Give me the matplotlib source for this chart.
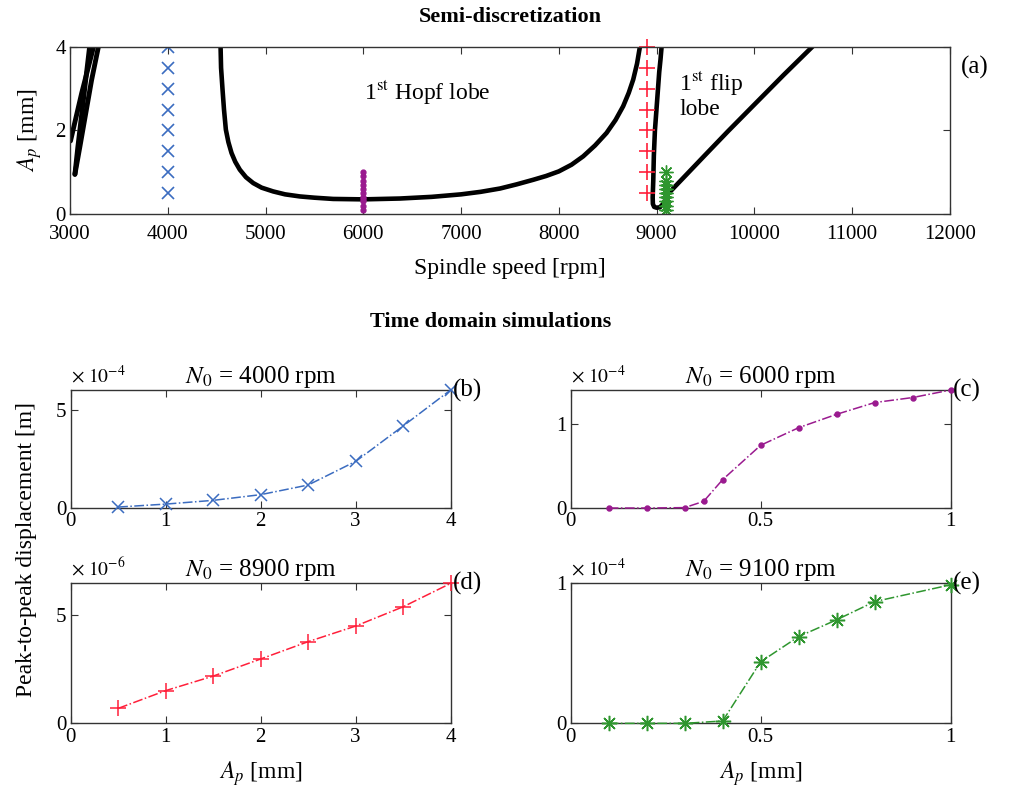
import numpy as np
import matplotlib
matplotlib.use("Agg")
import matplotlib.pyplot as plt

plt.rcParams['font.family'] = ['Liberation Serif', 'DejaVu Serif']
plt.rcParams['mathtext.fontset'] = 'stix'
plt.rcParams['xtick.direction'] = 'in'
plt.rcParams['ytick.direction'] = 'in'
plt.rcParams['xtick.top'] = True
plt.rcParams['ytick.right'] = True

# ---- stability chart (a): curves (rpm, mm)
left_lobe_1_rpm = [3050, 3080, 3120, 3160, 3200]
left_lobe_1_ap = [0.95, 1.6, 2.4, 3.2, 4.0]
left_lobe_2_rpm = [3050, 3100, 3160, 3220, 3290]
left_lobe_2_ap = [0.95, 1.6, 2.4, 3.2, 4.0]
left_lobe_3_rpm = [3005, 3060, 3120, 3180, 3240]
left_lobe_3_ap = [1.75, 2.3, 2.9, 3.45, 4.0]

hopf_rpm = [4540, 4545, 4560, 4575, 4594, 4620, 4652, 4690, 4737, 4800, 4874,
            4960, 5078, 5200, 5351, 5500, 5692, 6000, 6374, 6700, 7000, 7200,
            7399, 7570, 7740, 7870, 8000, 8130, 8249, 8370, 8488, 8580, 8658,
            8715, 8761, 8800, 8829]
hopf_ap = [4.0, 3.5, 2.98, 2.5, 2.02, 1.72, 1.46, 1.25, 1.06, 0.88, 0.74,
           0.63, 0.54, 0.47, 0.42, 0.39, 0.36, 0.35, 0.37, 0.41, 0.47, 0.53,
           0.61, 0.71, 0.82, 0.91, 1.02, 1.18, 1.38, 1.64, 1.94, 2.25, 2.58,
           2.9, 3.22, 3.6, 4.0]

flip_rpm = [9051, 9040, 9027, 9005, 8983, 8972, 8966, 8960, 8962, 8975, 9000,
            9034, 9070, 9116, 9300, 9500, 9730, 10000, 10300, 10600]
flip_ap = [4.0, 3.7, 3.4, 2.7, 2.0, 1.4, 0.8, 0.4, 0.24, 0.17, 0.15,
           0.16, 0.25, 0.48, 0.93, 1.42, 1.98, 2.62, 3.33, 4.02]

# ---- time domain simulations
ap_b = [0.5, 1.0, 1.5, 2.0, 2.5, 3.0, 3.5, 4.0]
pp_b = [0.05, 0.2, 0.39, 0.68, 1.17, 2.37, 4.17, 6.0]          # x 1e-4 m
ap_c = [0.1, 0.2, 0.3, 0.35, 0.4, 0.5, 0.6, 0.7, 0.8, 0.9, 1.0]
pp_c = [0.0, 0.0, 0.005, 0.08, 0.34, 0.75, 0.96, 1.12, 1.26, 1.32, 1.41]  # x 1e-4 m
ap_d = [0.5, 1.0, 1.5, 2.0, 2.5, 3.0, 3.5, 4.0]
pp_d = [0.69, 1.51, 2.18, 2.97, 3.77, 4.49, 5.38, 6.46]        # x 1e-6 m
ap_e = [0.1, 0.2, 0.3, 0.4, 0.5, 0.6, 0.7, 0.8, 1.0]
pp_e = [0.0, 0.0, 0.0, 0.017, 0.44, 0.62, 0.74, 0.87, 0.99]    # x 1e-4 m

speeds = [4000, 6000, 8900, 9100]
blue = '#3b6cc0'
purple = '#9a1a8f'
red = '#ff1f3a'
green = '#2f962f'
asterisk = (8, 2, 0)   # matlab style '*'

fig = plt.figure(figsize=(10.09, 7.89), dpi=100)

def style(ax, pad=3):
    for s in ax.spines.values():
        s.set_linewidth(1.0)
        s.set_color('#333333')
    ax.tick_params(labelsize=15, length=5, width=0.8, color='#333333', pad=pad)

# ================= (a)
ax = fig.add_axes([0.0694, 0.7288, 0.872, 0.2117])
for r, a in [(left_lobe_1_rpm, left_lobe_1_ap), (left_lobe_2_rpm, left_lobe_2_ap),
             (left_lobe_3_rpm, left_lobe_3_ap)]:
    ax.plot(r, a, color='black', lw=3.5, solid_capstyle='round')
ax.plot(hopf_rpm, hopf_ap, color='black', lw=3.3)
ax.plot(flip_rpm, flip_ap, color='black', lw=3.3, solid_capstyle='round')
ax.plot([speeds[0]] * len(ap_b), ap_b, 'x', color=blue, ms=9, mew=1.2, ls='none')
ax.plot([speeds[1]] * len(ap_c), ap_c, '.', color=purple, ms=7, ls='none')
ax.plot([speeds[2]] * len(ap_d), ap_d, '+', color=red, ms=12, mew=1.2, ls='none',
        clip_on=False)
ax.plot([speeds[3]] * len(ap_e), ap_e, marker=asterisk, color=green, ms=10, mew=1.0,
        ls='none')
ax.set_xlim(3000, 12000)
ax.set_ylim(0, 4)
ax.set_xticks(np.arange(3000, 12001, 1000))
ax.set_yticks([0, 2, 4])
style(ax)
ax.tick_params(axis='x', pad=8)
ax.set_xlabel('Spindle speed [rpm]', fontsize=17, labelpad=10)
ax.set_ylabel(r'$A_p$ [mm]', fontsize=17, labelpad=8)
ax.text(6650, 2.9, r'1$^{\rm st}$ Hopf lobe', fontsize=17, ha='center', va='center')
ax.text(9230, 2.85, r'1$^{\rm st}$ flip' + '\nlobe', fontsize=17, ha='left', va='center',
        linespacing=1.1)
fig.text(0.506, 0.978, 'Semi-discretization', fontsize=16, fontweight='bold',
         ha='center', va='center')
fig.text(0.966, 0.914, '(a)', fontsize=18, ha='center', va='center')

fig.text(0.486, 0.592, 'Time domain simulations', fontsize=16, fontweight='bold',
         ha='center', va='center')

# ================= (b)-(e)
panels = [
    ([0.0700, 0.3561, 0.3766, 0.1496], ap_b, pp_b, 'x', blue, 9, 6.0, [0, 5],
     [0, 1, 2, 3, 4], 4, 4.0, '(b)'),
    ([0.5656, 0.3561, 0.3766, 0.1496], ap_c, pp_c, '.', purple, 7, 1.41, [0, 1],
     [0, 0.5, 1], 4, 1.0, '(c)'),
    ([0.0700, 0.0832, 0.3766, 0.1774], ap_d, pp_d, '+', red, 12, 6.46, [0, 5],
     [0, 1, 2, 3, 4], 6, 4.0, '(d)'),
    ([0.5656, 0.0832, 0.3766, 0.1774], ap_e, pp_e, asterisk, green, 11, 1.0, [0, 1],
     [0, 0.5, 1], 4, 1.0, '(e)'),
]
rpm_titles = [4000, 6000, 8900, 9100]
axes = []
for i, (rect, x, y, mk, col, ms, ymax, yt, xt, ex, xmax, tag) in enumerate(panels):
    a = fig.add_axes(rect)
    a.plot(x, y, ls='-.', color=col, lw=1.1, marker=mk, ms=ms, mew=1.1,
           clip_on=False, zorder=3)
    a.set_xlim(0, xmax)
    a.set_ylim(0, ymax)
    a.set_xticks(xt)
    a.set_xticklabels([('%g' % v) for v in xt])
    a.set_yticks(yt)
    style(a)
    a.set_title(r'$N_0$ = %d rpm' % rpm_titles[i], fontsize=18, pad=5)
    a.text(0.0, 1.03, r'$\times\ 10^{-%d}$' % ex, transform=a.transAxes,
           fontsize=14, ha='left', va='bottom')
    a.text(1.005, 1.0, tag, transform=a.transAxes, fontsize=18, ha='left',
           va='center')
    axes.append(a)

axes[2].set_xlabel(r'$A_p$ [mm]', fontsize=17, labelpad=9)
axes[3].set_xlabel(r'$A_p$ [mm]', fontsize=17, labelpad=9)
fig.text(0.026, 0.303, 'Peak-to-peak displacement [m]', fontsize=17, rotation=90,
         ha='center', va='center')

fig.savefig('out.png', dpi=100)
